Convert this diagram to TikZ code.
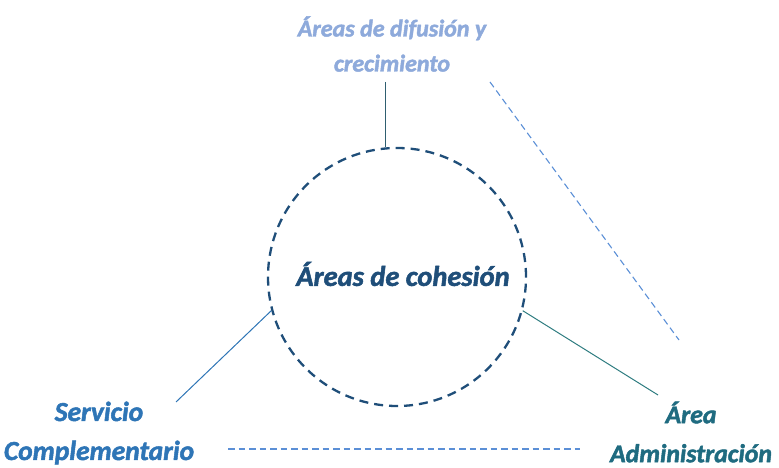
\documentclass[tikz,border=0pt]{standalone}
\usepackage{fontspec}
\setmainfont{Carlito}[BoldItalicFeatures={FakeBold=1.8}]
\definecolor{topc}{HTML}{8EAADB}
\definecolor{cenc}{HTML}{1F4E79}
\definecolor{leftc}{HTML}{2E75B6}
\definecolor{rightc}{HTML}{1F6B80}
\definecolor{vlinec}{HTML}{2F5F70}
\definecolor{dashc}{HTML}{5B8FD6}
\definecolor{rlinec}{HTML}{2E7C80}
\begin{document}
\begin{tikzpicture}[x=1pt,y=1pt,
  lbl/.style={align=center, inner sep=0pt},
  thinline/.style={line width=1pt},
  dashline/.style={line width=1.1pt, dash pattern=on 6.5pt off 4pt, dashc}]
\useasboundingbox (0,0) rectangle (779,468);
\node[circle, draw=cenc, line width=2.3pt, dash pattern=on 9pt off 6pt, minimum size=258pt, inner sep=0pt] (circ) at (397,191) {};
\node[lbl, text=cenc, font=\fontsize{28.5}{32}\selectfont\bfseries\itshape] (cen) at (403,194) {Áreas de cohesión};
\node[lbl, text=topc, font=\fontsize{24}{35}\selectfont\bfseries\itshape] (top) at (392,424) {Áreas de difusión y\\crecimiento};
\node[lbl, text=leftc, font=\fontsize{27.5}{39}\selectfont\bfseries\itshape] (left) at (99,35) {Servicio\\Complementario};
\node[lbl, text=rightc, font=\fontsize{25.8}{39}\selectfont\bfseries\itshape] (right) at (691,36) {Área\\Administración};
\coordinate (tA) at (385,386);
\coordinate (lA) at (176,66);
\coordinate (rA) at (658,73);
\draw[thinline, vlinec] (tA) -- (tA |- circ.north);
\draw[thinline, leftc] (lA) -- (circ.195);
\draw[thinline, rlinec] (rA) -- (circ.-15);
\coordinate (d1) at (490,386);
\coordinate (d2) at (679,128);
\coordinate (d3) at (228,19);
\coordinate (d4) at (580,19);
\draw[dashline] (d1) -- (d2);
\draw[dashline] (d3) -- (d4);
\end{tikzpicture}
\end{document}
